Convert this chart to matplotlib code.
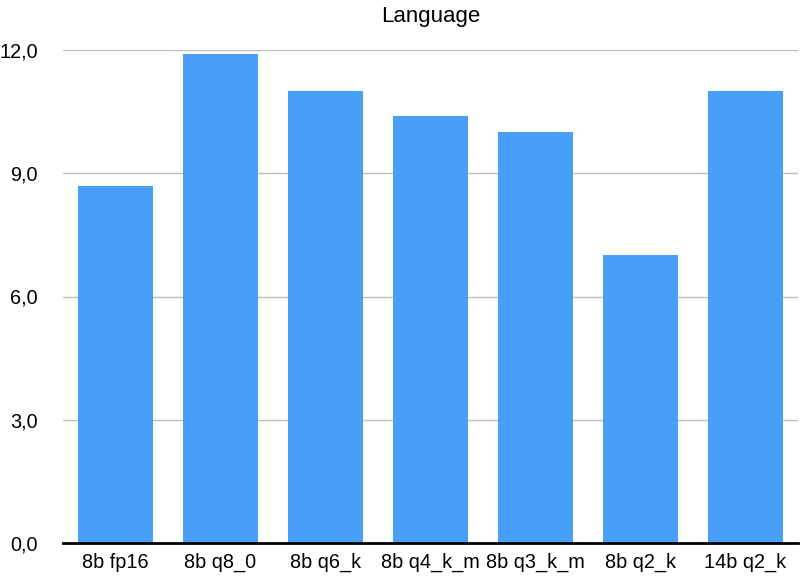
import matplotlib
matplotlib.use("Agg")
import matplotlib.pyplot as plt
from matplotlib.ticker import FixedLocator, FuncFormatter

categories = ["8b fp16", "8b q8_0", "8b q6_k", "8b q4_k_m", "8b q3_k_m", "8b q2_k", "14b q2_k"]
values = [8.7, 11.9, 11.0, 10.4, 10.0, 7.0, 11.0]
yticks = [0, 3, 6, 9, 12]
title = "Language"

plt.rcParams['font.family'] = ['Liberation Sans', 'DejaVu Sans']

fig = plt.figure(figsize=(8, 5.76), dpi=100)
ax = fig.add_axes([63/800, 33/576, 735/800, 493/576])

x = list(range(len(categories)))
ax.bar(x, values, width=0.714, color="#479FF8", zorder=3)

ax.set_xlim(-0.5, len(categories) - 0.5)
ax.set_ylim(0, 12)
ax.yaxis.set_major_locator(FixedLocator(yticks))
ax.yaxis.set_major_formatter(FuncFormatter(lambda v, p: f"{v:.1f}".replace(".", ",")))
ax.set_xticks(x)
ax.set_xticklabels(categories)
ax.tick_params(axis='both', length=0, labelsize=14.3, colors="black")
ax.tick_params(axis='x', pad=7)
ax.tick_params(axis='y', pad=18)
ax.grid(axis='y', color="#BDBDBD", linewidth=1, zorder=0)
for s in ["top", "right", "left"]:
    ax.spines[s].set_visible(False)
ax.spines["bottom"].set_linewidth(2)
ax.spines["bottom"].set_color("black")
ax.spines["bottom"].set_zorder(4)
ax.set_title(title, fontsize=16, pad=20)

fig.savefig("out.png", dpi=100)
